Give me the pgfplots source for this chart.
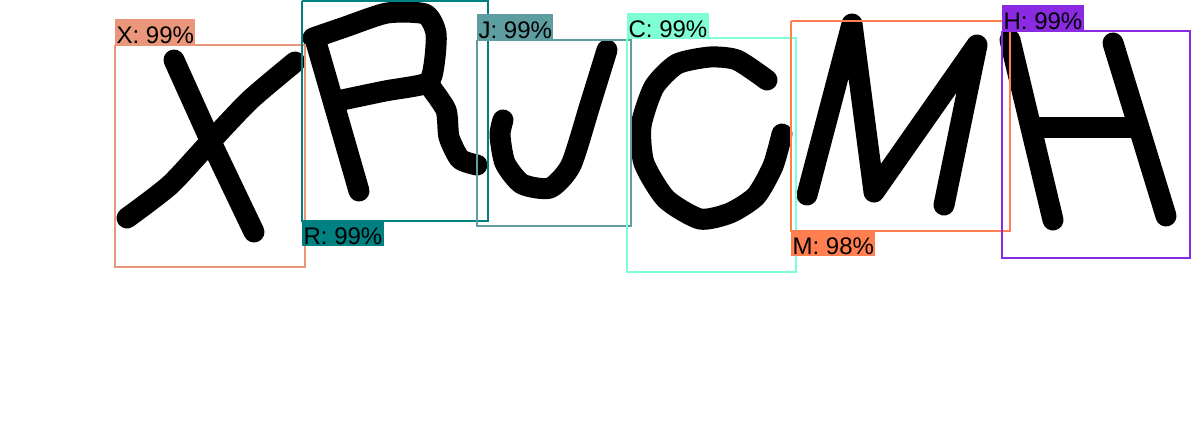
\documentclass[border=0pt]{standalone}
\usepackage{pgfplots}
\pgfplotsset{compat=1.18}
\usepackage{fontspec}
\setmainfont{Liberation Sans}
\definecolor{cX}{RGB}{233,150,122}
\definecolor{cR}{RGB}{0,128,128}
\definecolor{cJ}{RGB}{95,158,160}
\definecolor{cC}{RGB}{127,255,212}
\definecolor{cM}{RGB}{255,127,80}
\definecolor{cH}{RGB}{138,43,226}
\tikzset{
  letter/.style={black, line width=10.5pt, line cap=round, line join=round},
  box/.style={line width=1pt, line join=miter},
  lab/.style={inner xsep=0.6pt, inner ysep=0pt, text height=12pt, text depth=1pt, anchor=north west, font=\fontsize{12}{14}\selectfont, text=black}}
\begin{document}
\begin{tikzpicture}
\begin{axis}[x=0.5pt, y=0.5pt, y dir=reverse, xmin=0, xmax=1200, ymin=0, ymax=420,
  hide axis, clip=false,
  every axis plot/.append style={mark=none}]
\addplot[draw=none] coordinates {(0,0) (1200,420)};
% X
\addplot[letter] coordinates {(174,60) (211,142) (254,232)};
\addplot[letter, smooth, tension=0.4] coordinates {(295,62) (250,100) (210,142) (170,185) (127,218)};
% R
\addplot[letter] coordinates {(316,42) (338,118) (359,191)};
\addplot[letter, smooth, tension=0.4] coordinates {(313,38) (345,27) (387,13) (425,14) (436,33) (434,65) (427,83) (385,91) (342,100)};
\addplot[letter, smooth, tension=0.4] coordinates {(429,85) (446,110) (449,137) (460,159) (477,165)};
% J
\addplot[letter, smooth, tension=0.4] coordinates {(607,50) (590,105) (571,165) (550,188) (522,184) (505,163) (500,135) (503,120)};
% C
\addplot[letter, smooth, tension=0.4] coordinates {(767,80) (737,60) (710,57) (677,64) (654,87) (641,126) (644,163) (666,199) (700,219) (730,213) (756,196) (773,166) (782,134)};
% M
\addplot[letter] coordinates {(807,195) (852,24) (874,192) (977,45) (944,205)};
% H
\addplot[letter] coordinates {(1010,40) (1053,220)};
\addplot[letter] coordinates {(1113,43) (1166,216)};
\addplot[letter] coordinates {(1033,127) (1134,127)};
% boxes
\addplot[box, cX] coordinates {(115,45) (305,45) (305,267) (115,267) (115,45)};
\addplot[box, cR] coordinates {(302,1) (488,1) (488,221) (302,221) (302,1)};
\addplot[box, cJ] coordinates {(477,40) (631,40) (631,226) (477,226) (477,40)};
\addplot[box, cC] coordinates {(627,38) (796,38) (796,272) (627,272) (627,38)};
\addplot[box, cM] coordinates {(791,21) (1010,21) (1010,231) (791,231) (791,21)};
\addplot[box, cH] coordinates {(1002,31) (1190,31) (1190,258) (1002,258) (1002,31)};
% labels
\node[lab, fill=cX] at (axis cs:115,19) {X: 99\%};
\node[lab, fill=cR] at (axis cs:302,220) {R: 99\%};
\node[lab, fill=cJ] at (axis cs:477,14) {J: 99\%};
\node[lab, fill=cC] at (axis cs:627,13) {C: 99\%};
\node[lab, fill=cM] at (axis cs:791,230) {M: 98\%};
\node[lab, fill=cH] at (axis cs:1002,5) {H: 99\%};
\end{axis}
\end{tikzpicture}
\end{document}
